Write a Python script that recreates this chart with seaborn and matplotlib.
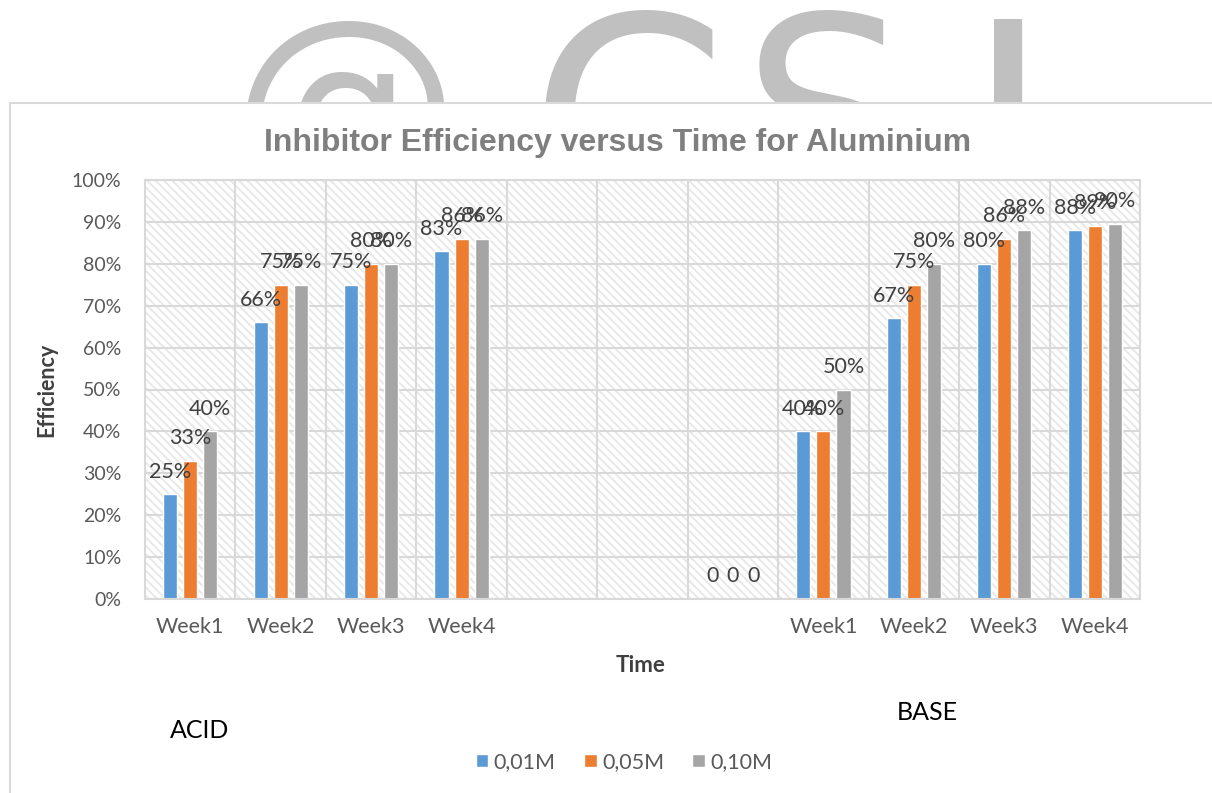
import numpy as np
import pandas as pd
import seaborn as sns
import matplotlib.pyplot as plt
from matplotlib.patches import Rectangle, Patch
from matplotlib.ticker import PercentFormatter, MultipleLocator, FixedLocator

# categories: 4 acid weeks, 3 spacer slots, 4 base weeks
weeks = ["Week1", "Week2", "Week3", "Week4"]
slots = ["A1", "A2", "A3", "A4", "gap1", "gap2", "gap3", "B1", "B2", "B3", "B4"]
tick_labels = weeks + ["", "", ""] + weeks
concentrations = ["0,01M", "0,05M", "0,10M"]
colors = ["#5b9bd5", "#ed7d31", "#a5a5a5"]

# efficiency in percent
acid_001 = [25, 66, 75, 83]
acid_005 = [33, 75, 80, 86]
acid_010 = [40, 75, 80, 86]
gap_values = [np.nan, np.nan, 0]
base_001 = [40, 67, 80, 88]
base_005 = [40, 75, 86, 89]
base_010 = [50, 80, 88, 89.6]

rows = []
for conc, acid, base in zip(concentrations,
                            [acid_001, acid_005, acid_010],
                            [base_001, base_005, base_010]):
    for slot, val in zip(slots, acid + gap_values + base):
        rows.append({"slot": slot, "conc": conc, "eff": val})
data = pd.DataFrame(rows)

sns.set_style("white")
plt.rcParams["font.family"] = ["Lato", "DejaVu Sans"]
plt.rcParams["hatch.linewidth"] = 1.4

fig = plt.figure(figsize=(12.12, 7.93), dpi=100)

# watermark behind the chart
wm = dict(color="#c0c0c0", va="top", ha="center", family="DejaVu Sans", zorder=-3)
fig.text(345 / 1212, 1 - 8 / 793, "@", fontsize=165, **wm)
fig.text(628 / 1212, 1 - 5 / 793, "C", fontsize=205, **wm)
fig.text(825 / 1212, 1 - 5 / 793, "S", fontsize=190, **wm)
fig.text(1008 / 1212, 1 - 10 / 793, "I", fontsize=205, **wm)

# chart area frame
fig.patches.append(Rectangle((10 / 1212, -0.02), 1.0, 0.02 + 1 - 103 / 793,
                             transform=fig.transFigure, facecolor="white",
                             edgecolor="#d9d9d9", lw=1.5, zorder=-1))

ax = fig.add_axes([145 / 1212, 1 - 599 / 793, 995 / 1212, 419 / 793])
ax.add_patch(Rectangle((0, 0), 1, 1, transform=ax.transAxes, facecolor="white",
                       edgecolor="#e8e8e8", hatch="\\\\\\\\", lw=0, zorder=0.1))

sns.barplot(data=data, x="slot", y="eff", hue="conc", order=slots,
            hue_order=concentrations, palette=colors, width=0.667, gap=0.3,
            saturation=1, errorbar=None, legend=False, ax=ax, zorder=2)

for container in ax.containers:
    for bar in container:
        h = bar.get_height()
        if np.isnan(h):
            continue
        txt = "0" if h == 0 else f"{h:.0f}%"
        ax.annotate(txt, (bar.get_x() + bar.get_width() / 2, h),
                    xytext=(0, 12), textcoords="offset points", ha="center",
                    va="baseline", fontsize=15.5, color="#404040", zorder=3)

ax.set_xlim(-0.5, 10.5)
ax.set_ylim(0, 100)
ax.yaxis.set_major_locator(MultipleLocator(10))
ax.yaxis.set_major_formatter(PercentFormatter(100, decimals=0))
ax.set_xticks(range(len(slots)))
ax.set_xticklabels(tick_labels)
ax.xaxis.set_minor_locator(FixedLocator(np.arange(0.5, 10, 1)))
ax.grid(axis="y", which="major", color="#d9d9d9", lw=1.5)
ax.grid(axis="x", which="minor", color="#d9d9d9", lw=1.5)
ax.set_axisbelow(True)
for sp in ax.spines.values():
    sp.set_color("#d9d9d9")
    sp.set_linewidth(1.5)
ax.tick_params(axis="both", which="both", length=0, colors="#595959")
ax.tick_params(axis="y", pad=17, labelsize=14)
ax.tick_params(axis="x", pad=13, labelsize=15.5)
ax.set_xlabel("")
ax.set_ylabel("")

fig.text(618 / 1212, 1 - 143 / 793, "Inhibitor Efficiency versus Time for Aluminium",
         ha="center", va="center", fontsize=23, fontweight="bold",
         color="#7f7f7f", family="Liberation Sans")
fig.text(47 / 1212, 1 - 390 / 793, "Efficiency", rotation=90, ha="center",
         va="center", fontsize=15.5, fontweight="bold", color="#404040")
fig.text(641 / 1212, 1 - 666 / 793, "Time", ha="center", va="center",
         fontsize=16, fontweight="bold", color="#404040")
fig.text(200 / 1212, 1 - 730 / 793, "ACID", ha="center", va="center",
         fontsize=18, color="black")
fig.text(927 / 1212, 1 - 713 / 793, "BASE", ha="center", va="center",
         fontsize=18, color="black")

handles = [Patch(facecolor=c, label=l) for c, l in zip(colors, concentrations)]
fig.legend(handles=handles, loc="center", bbox_to_anchor=(624 / 1212, 1 - 762 / 793),
           ncol=3, frameon=False, fontsize=15.5, handlelength=0.6, handleheight=0.6,
           handletextpad=0.25, columnspacing=1.3, labelcolor="#595959")

fig.savefig("out.png", dpi=100)
